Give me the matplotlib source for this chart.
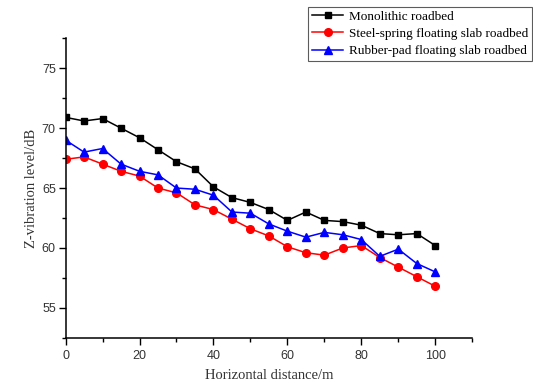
import numpy as np
import matplotlib
matplotlib.use("Agg")
import matplotlib.pyplot as plt
from matplotlib.ticker import MultipleLocator

# horizontal distance from track centre (m)
distance = [0, 5, 10, 15, 20, 25, 30, 35, 40, 45, 50,
            55, 60, 65, 70, 75, 80, 85, 90, 95, 100]

# Z-vibration level (dB) for each roadbed type
monolithic = [70.9, 70.6, 70.8, 70.0, 69.2, 68.2, 67.2, 66.6, 65.1, 64.2, 63.8,
              63.2, 62.3, 63.0, 62.3, 62.2, 61.9, 61.2, 61.1, 61.2, 60.2]
steel_spring = [67.4, 67.6, 67.0, 66.4, 66.0, 65.0, 64.6, 63.6, 63.2, 62.4, 61.6,
                61.0, 60.1, 59.6, 59.4, 60.0, 60.2, 59.2, 58.4, 57.6, 56.8]
rubber_pad = [69.0, 68.0, 68.3, 67.0, 66.4, 66.1, 65.0, 64.9, 64.4, 63.0, 62.9,
              62.0, 61.4, 60.9, 61.3, 61.1, 60.7, 59.3, 59.9, 58.7, 58.0]

labels = ['Monolithic roadbed',
          'Steel-spring floating slab roadbed',
          'Rubber-pad floating slab roadbed']

fig = plt.figure(figsize=(5.33, 3.83), dpi=100)
ax = fig.add_axes([0.123, 0.118, 0.763, 0.782])

lw = 1.1
ax.plot(distance, monolithic, color='black', marker='s', markersize=5, linewidth=lw, label=labels[0])
ax.plot(distance, steel_spring, color='red', marker='o', markersize=5.5, linewidth=lw, label=labels[1])
ax.plot(distance, rubber_pad, color='blue', marker='^', markersize=6, linewidth=lw, label=labels[2])

ax.set_xlim(0, 110)
ax.set_ylim(52.5, 77.5)
ax.xaxis.set_major_locator(MultipleLocator(20))
ax.xaxis.set_minor_locator(MultipleLocator(10))
ax.yaxis.set_major_locator(MultipleLocator(5))
ax.yaxis.set_minor_locator(MultipleLocator(2.5))
ax.tick_params(which='major', direction='out', length=5, width=1,
               labelsize=9, labelfontfamily='Liberation Sans', colors='black', labelcolor='#333333')
ax.tick_params(which='minor', direction='out', length=3, width=1)
ax.tick_params(axis='y', pad=2)
ax.set_xticks([0, 20, 40, 60, 80, 100])

for s in ['top', 'right']:
    ax.spines[s].set_visible(False)
for s in ['left', 'bottom']:
    ax.spines[s].set_linewidth(1.1)

ax.set_xlabel('Horizontal distance/m', family='Liberation Serif', fontsize=10.5, color='#333333', labelpad=5)
ax.set_ylabel('Z-vibration level/dB', family='Liberation Serif', fontsize=10.5, color='#333333', labelpad=3)

leg = fig.legend(loc='upper right', bbox_to_anchor=(0.998, 0.983),
                 prop={'family': 'Liberation Serif', 'size': 9.5},
                 frameon=True, fancybox=False, handlelength=2.4,
                 borderpad=0.3, labelspacing=0.38, handletextpad=0.4,
                 borderaxespad=0)
leg.get_frame().set_edgecolor('#333333')
leg.get_frame().set_linewidth(0.8)

fig.savefig('out.png', dpi=100)
